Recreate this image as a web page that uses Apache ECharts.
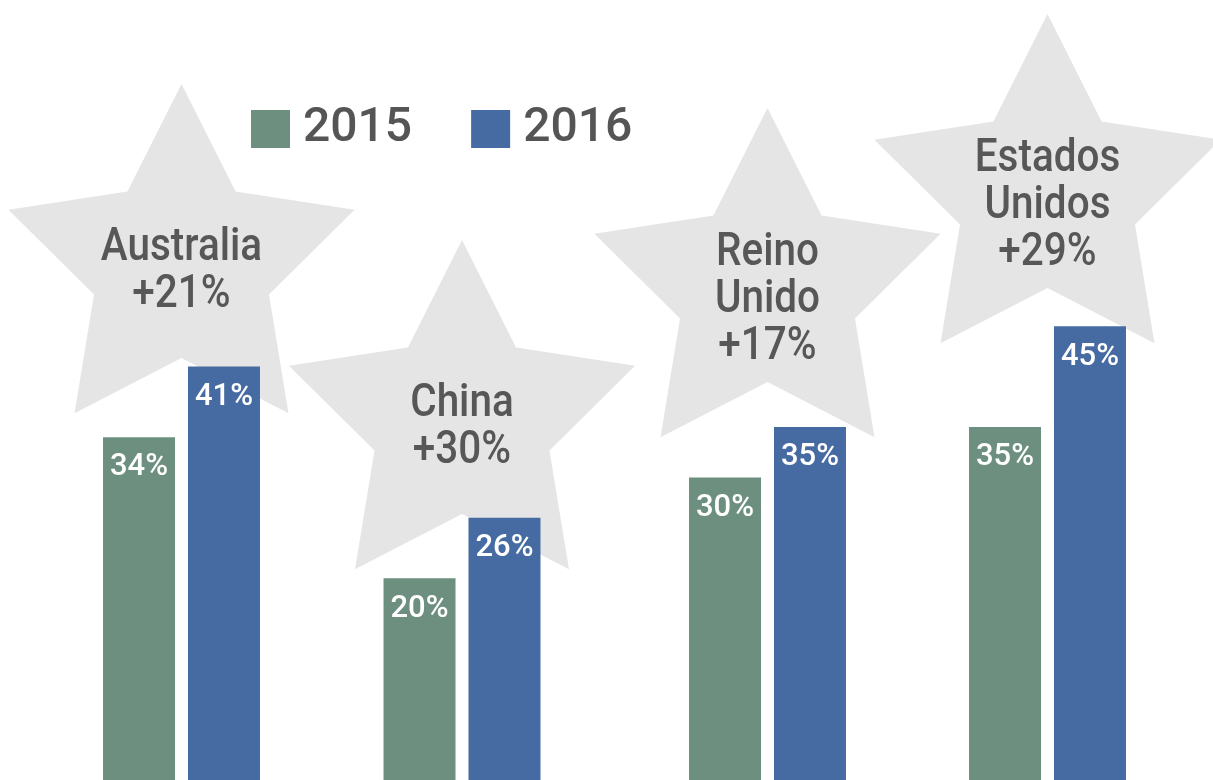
<!DOCTYPE html>
<html lang="es">
<head>
	<meta charset="UTF-8">
	<title>2015 vs 2016</title>
	<script src="https://cdn.jsdelivr.net/npm/echarts@6/dist/echarts.min.js"></script>
	<style>
		html, body { margin: 0; padding: 0; background: #fff; }
		#main { width: 1213px; height: 780px; }
	</style>
</head>
<body>
	<div id="main"></div>
	<script>
		// datos
		var countries = ['Australia', 'China', 'Reino Unido', 'Estados Unidos'];
		var years = ['2015', '2016'];
		var values2015 = [34, 20, 30, 35];
		var values2016 = [41, 26, 35, 45];

		// layout (pixels)
		var groupCenters = [181.5, 462, 767.5, 1047.5];
		var starCenterY = [266, 422, 290, 196];
		var textShift = [6, 6, 10, 10];
		var colors = ['#6d8f7f', '#466ba2'];
		var font = 'Roboto, "DejaVu Sans Condensed", sans-serif';

		var grids = [], xAxes = [], yAxes = [], series = [];
		countries.forEach(function (name, i) {
			grids.push({ left: groupCenters[i] - 90, width: 180, top: 175, bottom: 0 });
			xAxes.push({ type: 'category', gridIndex: i, data: [name], show: false });
			yAxes.push({ type: 'value', gridIndex: i, min: 0, max: 60, show: false });
			[values2015, values2016].forEach(function (vals, k) {
				series.push({
					name: years[k],
					type: 'bar',
					xAxisIndex: i,
					yAxisIndex: i,
					barWidth: 72,
					barGap: '18%',
					itemStyle: { color: colors[k] },
					label: {
						show: true,
						position: 'insideTop',
						distance: 15,
						formatter: '{c}%',
						color: '#fff',
						fontSize: 31,
						fontWeight: 500,
						fontFamily: font
					},
					data: [vals[i]]
				});
			});
		});

		var option = {
			animation: false,
			color: colors,
			legend: {
				data: years,
				left: 246,
				top: 100,
				icon: 'rect',
				itemWidth: 39,
				itemHeight: 38,
				itemGap: 59,
				textStyle: { fontSize: 48, fontWeight: 500, color: '#555', fontFamily: font, padding: [0, 0, 0, 8] }
			},
			grid: grids,
			xAxis: xAxes,
			yAxis: yAxes,
			series: series
		};

		var myChart = echarts.init(document.getElementById('main'));
		myChart.setOption(option);

		// estrellas con el crecimiento
		function starPoints(cx, cy, R, r) {
			var pts = [];
			for (var j = 0; j < 10; j++) {
				var rad = j % 2 === 0 ? R : r;
				var a = -Math.PI / 2 + j * Math.PI / 5;
				pts.push([cx + rad * Math.cos(a), cy + rad * Math.sin(a)]);
			}
			return pts;
		}

		var graphics = [];
		countries.forEach(function (name, i) {
			var cx = myChart.convertToPixel({ xAxisIndex: i }, name);
			var cy = starCenterY[i];
			var growth = Math.round((values2016[i] / values2015[i] - 1) * 100);
			graphics.push({
				type: 'polygon',
				z: -10,
				silent: true,
				shape: { points: starPoints(cx, cy, 182, 92) },
				style: { fill: '#e5e5e5' }
			});
			graphics.push({
				type: 'text',
				z: -9,
				silent: true,
				x: cx,
				y: cy + textShift[i],
				scaleX: 0.88,
				style: {
					text: name.replace(' ', '\n') + '\n+' + growth + '%',
					fill: '#575757',
					fontSize: 46,
					fontWeight: 500,
					lineHeight: 47,
					fontFamily: font,
					align: 'center',
					verticalAlign: 'middle'
				}
			});
		});
		myChart.setOption({ graphic: graphics });
	</script>
</body>
</html>
